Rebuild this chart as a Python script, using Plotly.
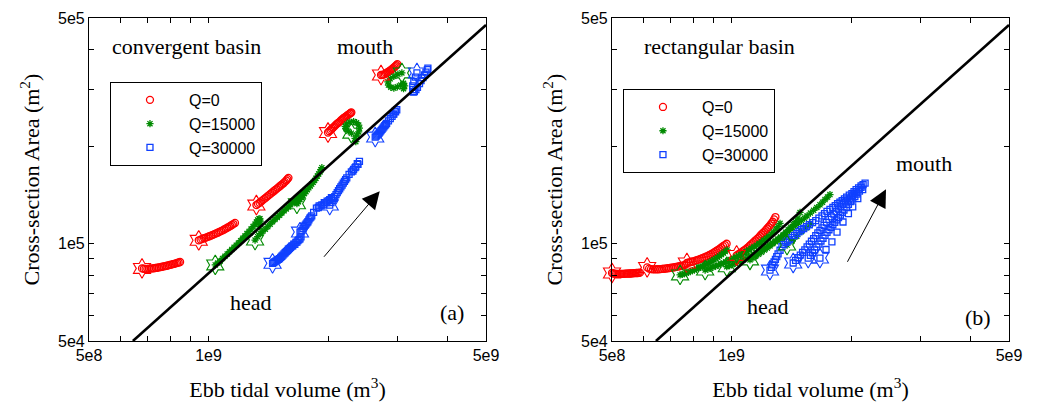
import numpy as np
import plotly.graph_objects as go

# ---------------- Panel (a): convergent basin ----------------
# each inner list is one cross-section, ordered from head to mouth;
# the first point of every segment is the initial state (drawn as a star)
conv_q0_x = [
    [6.80e8, 6.87e8, 6.94e8, 7.01e8, 7.08e8, 7.15e8, 7.22e8, 7.29e8, 7.36e8, 7.43e8, 7.50e8, 7.57e8, 7.64e8,
     7.71e8, 7.78e8, 7.85e8, 7.92e8, 7.99e8, 8.06e8, 8.13e8, 8.20e8, 8.27e8, 8.34e8, 8.41e8, 8.48e8],
    [9.45e8, 9.55e8, 9.65e8, 9.75e8, 9.85e8, 9.95e8, 1.005e9, 1.015e9, 1.025e9, 1.035e9, 1.045e9, 1.055e9,
     1.065e9, 1.075e9, 1.085e9, 1.095e9, 1.105e9, 1.115e9, 1.125e9, 1.135e9, 1.145e9, 1.155e9, 1.166e9],
    [1.320e9, 1.332e9, 1.345e9, 1.357e9, 1.370e9, 1.382e9, 1.395e9, 1.407e9, 1.420e9, 1.432e9, 1.445e9, 1.457e9,
     1.470e9, 1.482e9, 1.495e9, 1.507e9, 1.520e9, 1.532e9, 1.545e9, 1.557e9, 1.570e9, 1.580e9, 1.590e9],
    [2.000e9, 2.015e9, 2.030e9, 2.045e9, 2.060e9, 2.075e9, 2.090e9, 2.105e9, 2.120e9, 2.135e9, 2.150e9, 2.165e9,
     2.180e9, 2.195e9, 2.210e9, 2.225e9, 2.240e9, 2.255e9, 2.270e9, 2.280e9, 2.290e9],
    [2.72e9, 2.74e9, 2.76e9, 2.78e9, 2.80e9, 2.82e9, 2.84e9, 2.86e9, 2.88e9, 2.90e9, 2.92e9, 2.94e9, 2.96e9,
     2.975e9, 2.99e9],
]
conv_q0_y = [
    [8.39e4, 8.37e4, 8.36e4, 8.36e4, 8.37e4, 8.38e4, 8.39e4, 8.40e4, 8.42e4, 8.43e4, 8.45e4, 8.47e4, 8.49e4,
     8.51e4, 8.53e4, 8.55e4, 8.57e4, 8.60e4, 8.62e4, 8.65e4, 8.67e4, 8.70e4, 8.73e4, 8.75e4, 8.78e4],
    [1.025e5, 1.030e5, 1.035e5, 1.040e5, 1.045e5, 1.050e5, 1.055e5, 1.060e5, 1.066e5, 1.071e5, 1.077e5, 1.082e5,
     1.088e5, 1.094e5, 1.100e5, 1.107e5, 1.114e5, 1.121e5, 1.128e5, 1.135e5, 1.143e5, 1.151e5, 1.160e5],
    [1.318e5, 1.329e5, 1.340e5, 1.352e5, 1.365e5, 1.377e5, 1.390e5, 1.402e5, 1.415e5, 1.427e5, 1.440e5, 1.452e5,
     1.465e5, 1.477e5, 1.490e5, 1.502e5, 1.515e5, 1.527e5, 1.540e5, 1.555e5, 1.570e5, 1.585e5, 1.600e5],
    [2.21e5, 2.23e5, 2.25e5, 2.27e5, 2.29e5, 2.31e5, 2.33e5, 2.35e5, 2.365e5, 2.38e5, 2.40e5, 2.42e5,
     2.44e5, 2.455e5, 2.47e5, 2.485e5, 2.50e5, 2.515e5, 2.53e5, 2.54e5, 2.55e5],
    [3.33e5, 3.335e5, 3.34e5, 3.35e5, 3.37e5, 3.39e5, 3.41e5, 3.43e5, 3.45e5, 3.475e5, 3.50e5, 3.525e5, 3.55e5,
     3.575e5, 3.60e5],
]

conv_q15k_x = [
    [1.040e9, 1.055e9, 1.070e9, 1.085e9, 1.100e9, 1.115e9, 1.130e9, 1.145e9, 1.160e9, 1.175e9, 1.190e9, 1.205e9,
     1.220e9, 1.235e9, 1.250e9, 1.265e9, 1.280e9, 1.295e9, 1.310e9, 1.320e9, 1.330e9, 1.340e9, 1.348e9, 1.350e9,
     1.347e9, 1.343e9],
    [1.31e9, 1.33e9, 1.35e9, 1.37e9, 1.39e9, 1.41e9, 1.43e9, 1.45e9, 1.47e9, 1.49e9, 1.51e9, 1.53e9, 1.55e9,
     1.57e9, 1.59e9, 1.61e9, 1.63e9, 1.65e9, 1.67e9, 1.69e9, 1.71e9, 1.73e9, 1.75e9],
    [1.670e9, 1.685e9, 1.700e9, 1.715e9, 1.730e9, 1.745e9, 1.760e9, 1.775e9, 1.790e9, 1.805e9, 1.820e9, 1.835e9,
     1.850e9, 1.865e9, 1.880e9, 1.895e9, 1.910e9, 1.920e9, 1.930e9],
    [2.29e9, 2.25e9, 2.22e9, 2.21e9, 2.23e9, 2.27e9, 2.32e9, 2.36e9, 2.39e9, 2.40e9, 2.39e9, 2.36e9, 2.34e9, 2.35e9],
    [3.07e9, 3.00e9, 2.93e9, 2.87e9, 2.83e9, 2.84e9, 2.88e9, 2.93e9, 2.99e9, 3.05e9, 3.10e9, 3.12e9, 3.10e9],
]
conv_q15k_y = [
    [8.60e4, 8.72e4, 8.85e4, 9.00e4, 9.15e4, 9.30e4, 9.45e4, 9.60e4, 9.75e4, 9.90e4, 1.005e5, 1.022e5,
     1.040e5, 1.057e5, 1.075e5, 1.092e5, 1.110e5, 1.130e5, 1.150e5, 1.167e5, 1.185e5, 1.195e5, 1.195e5, 1.175e5,
     1.150e5, 1.130e5],
    [1.027e5, 1.052e5, 1.075e5, 1.093e5, 1.110e5, 1.130e5, 1.150e5, 1.170e5, 1.190e5, 1.207e5, 1.225e5, 1.245e5,
     1.265e5, 1.282e5, 1.300e5, 1.320e5, 1.340e5, 1.360e5, 1.380e5, 1.400e5, 1.420e5, 1.440e5, 1.460e5],
    [1.33e5, 1.35e5, 1.37e5, 1.39e5, 1.41e5, 1.43e5, 1.45e5, 1.47e5, 1.49e5, 1.51e5, 1.53e5, 1.55e5,
     1.57e5, 1.595e5, 1.62e5, 1.645e5, 1.67e5, 1.695e5, 1.72e5],
    [2.20e5, 2.23e5, 2.27e5, 2.31e5, 2.35e5, 2.38e5, 2.39e5, 2.37e5, 2.33e5, 2.28e5, 2.22e5, 2.17e5, 2.12e5, 2.07e5],
    [3.38e5, 3.35e5, 3.30e5, 3.24e5, 3.17e5, 3.10e5, 3.05e5, 3.03e5, 3.06e5, 3.10e5, 3.14e5, 3.08e5, 3.02e5],
]

conv_q30k_x = [
    [1.45e9, 1.46e9, 1.47e9, 1.48e9, 1.49e9, 1.50e9, 1.51e9, 1.52e9, 1.53e9, 1.54e9, 1.55e9, 1.56e9, 1.57e9,
     1.58e9, 1.59e9, 1.60e9, 1.62e9, 1.64e9, 1.66e9, 1.68e9, 1.70e9, 1.71e9, 1.69e9, 1.67e9, 1.65e9, 1.63e9,
     1.61e9, 1.59e9],
    [1.70e9, 1.71e9, 1.72e9, 1.73e9, 1.74e9, 1.75e9, 1.76e9, 1.77e9, 1.78e9, 1.79e9, 1.80e9, 1.81e9, 1.82e9,
     1.84e9, 1.87e9, 1.90e9, 1.93e9, 1.96e9, 1.99e9, 2.02e9, 2.04e9, 2.01e9, 1.98e9, 1.95e9, 1.92e9, 1.89e9],
    [2.020e9, 2.035e9, 2.050e9, 2.065e9, 2.080e9, 2.095e9, 2.110e9, 2.125e9, 2.140e9, 2.155e9, 2.170e9, 2.185e9,
     2.200e9, 2.215e9, 2.230e9, 2.260e9, 2.290e9, 2.320e9, 2.350e9, 2.380e9, 2.400e9, 2.370e9, 2.340e9, 2.310e9],
    [2.630e9, 2.645e9, 2.660e9, 2.675e9, 2.690e9, 2.705e9, 2.720e9, 2.735e9, 2.750e9, 2.765e9, 2.780e9, 2.795e9,
     2.810e9, 2.840e9, 2.870e9, 2.900e9, 2.930e9, 2.960e9, 2.980e9, 2.950e9, 2.920e9],
    [3.35e9, 3.32e9, 3.29e9, 3.27e9, 3.27e9, 3.28e9, 3.30e9, 3.33e9, 3.36e9, 3.40e9, 3.43e9, 3.47e9, 3.50e9,
     3.53e9, 3.56e9, 3.57e9],
]
conv_q30k_y = [
    [8.70e4, 8.75e4, 8.80e4, 8.85e4, 8.90e4, 8.95e4, 9.00e4, 9.08e4, 9.15e4, 9.22e4, 9.30e4, 9.38e4, 9.45e4,
     9.52e4, 9.60e4, 9.68e4, 9.83e4, 9.98e4, 1.010e5, 1.022e5, 1.035e5, 1.050e5, 1.030e5, 1.012e5, 9.95e4, 9.85e4,
     9.75e4, 9.62e4],
    [1.087e5, 1.095e5, 1.100e5, 1.115e5, 1.130e5, 1.140e5, 1.150e5, 1.160e5, 1.170e5, 1.185e5, 1.200e5, 1.210e5,
     1.220e5, 1.250e5, 1.290e5, 1.310e5, 1.320e5, 1.340e5, 1.355e5, 1.370e5, 1.390e5, 1.360e5, 1.340e5, 1.320e5,
     1.310e5, 1.295e5],
    [1.318e5, 1.34e5, 1.36e5, 1.38e5, 1.40e5, 1.42e5, 1.44e5, 1.46e5, 1.48e5, 1.50e5, 1.52e5, 1.54e5,
     1.56e5, 1.58e5, 1.60e5, 1.64e5, 1.67e5, 1.70e5, 1.73e5, 1.76e5, 1.80e5, 1.77e5, 1.72e5, 1.68e5],
    [2.14e5, 2.155e5, 2.17e5, 2.185e5, 2.20e5, 2.22e5, 2.24e5, 2.26e5, 2.28e5, 2.30e5, 2.32e5, 2.34e5,
     2.36e5, 2.40e5, 2.44e5, 2.48e5, 2.52e5, 2.56e5, 2.60e5, 2.57e5, 2.52e5],
    [3.38e5, 3.28e5, 3.18e5, 3.08e5, 3.00e5, 2.95e5, 2.96e5, 3.00e5, 3.05e5, 3.13e5, 3.20e5, 3.27e5, 3.33e5,
     3.40e5, 3.46e5, 3.50e5],
]

# ---------------- Panel (b): rectangular basin ----------------
rect_q0_x = [
    [5.00e8, 5.04e8, 5.08e8, 5.12e8, 5.16e8, 5.20e8, 5.24e8, 5.28e8, 5.32e8, 5.36e8, 5.40e8, 5.44e8, 5.48e8,
     5.52e8, 5.56e8, 5.60e8, 5.64e8, 5.68e8, 5.72e8, 5.76e8, 5.80e8, 5.84e8, 5.88e8],
    [6.13e8, 6.20e8, 6.27e8, 6.34e8, 6.41e8, 6.48e8, 6.55e8, 6.62e8, 6.69e8, 6.76e8, 6.83e8, 6.90e8, 6.97e8,
     7.04e8, 7.11e8, 7.18e8, 7.25e8, 7.32e8, 7.39e8, 7.46e8, 7.53e8, 7.60e8, 7.67e8],
    [7.72e8, 7.81e8, 7.90e8, 7.99e8, 8.08e8, 8.17e8, 8.26e8, 8.35e8, 8.44e8, 8.53e8, 8.62e8, 8.71e8, 8.80e8,
     8.89e8, 8.98e8, 9.07e8, 9.16e8, 9.25e8, 9.34e8, 9.43e8, 9.52e8, 9.62e8, 9.72e8],
    [1.03e9, 1.04e9, 1.05e9, 1.06e9, 1.07e9, 1.08e9, 1.09e9, 1.10e9, 1.11e9, 1.12e9, 1.13e9, 1.14e9, 1.15e9,
     1.16e9, 1.17e9, 1.18e9, 1.19e9, 1.20e9, 1.21e9, 1.22e9, 1.23e9, 1.24e9, 1.25e9, 1.26e9, 1.27e9, 1.28e9, 1.29e9],
]
rect_q0_y = [
    [8.12e4, 8.09e4, 8.08e4, 8.07e4, 8.07e4, 8.07e4, 8.07e4, 8.07e4, 8.07e4, 8.07e4, 8.08e4, 8.08e4, 8.08e4,
     8.09e4, 8.09e4, 8.10e4, 8.10e4, 8.11e4, 8.11e4, 8.12e4, 8.12e4, 8.13e4, 8.14e4],
    [8.45e4, 8.38e4, 8.35e4, 8.33e4, 8.33e4, 8.34e4, 8.34e4, 8.35e4, 8.36e4, 8.37e4, 8.38e4, 8.40e4, 8.41e4,
     8.43e4, 8.44e4, 8.46e4, 8.48e4, 8.50e4, 8.52e4, 8.54e4, 8.56e4, 8.59e4, 8.62e4],
    [8.72e4, 8.75e4, 8.78e4, 8.81e4, 8.85e4, 8.89e4, 8.93e4, 8.97e4, 9.02e4, 9.07e4, 9.12e4, 9.17e4, 9.23e4,
     9.29e4, 9.36e4, 9.43e4, 9.50e4, 9.58e4, 9.66e4, 9.74e4, 9.83e4, 9.91e4, 1.00e5],
    [9.20e4, 9.27e4, 9.35e4, 9.42e4, 9.50e4, 9.57e4, 9.65e4, 9.75e4, 9.85e4, 9.95e4, 1.005e5, 1.015e5, 1.025e5,
     1.035e5, 1.045e5, 1.057e5, 1.070e5, 1.080e5, 1.090e5, 1.102e5, 1.115e5, 1.127e5, 1.140e5, 1.155e5, 1.170e5,
     1.190e5, 1.210e5],
]

rect_q15k_x = [
    [7.42e8, 7.51e8, 7.60e8, 7.69e8, 7.78e8, 7.87e8, 7.97e8, 8.06e8, 8.16e8, 8.25e8, 8.35e8, 8.44e8, 8.54e8,
     8.63e8, 8.73e8, 8.83e8, 8.93e8, 9.03e8, 9.13e8, 9.23e8, 9.33e8, 9.43e8, 9.54e8, 9.64e8, 9.75e8],
    [8.58e8, 8.72e8, 8.85e8, 8.98e8, 9.12e8, 9.26e8, 9.40e8, 9.54e8, 9.68e8, 9.82e8, 9.97e8, 1.012e9, 1.027e9,
     1.042e9, 1.058e9, 1.074e9, 1.090e9, 1.106e9, 1.123e9, 1.140e9, 1.157e9, 1.174e9, 1.190e9, 1.207e9, 1.225e9,
     1.242e9, 1.260e9, 1.277e9, 1.295e9, 1.310e9, 1.325e9],
    [9.73e8, 9.89e8, 1.005e9, 1.021e9, 1.037e9, 1.053e9, 1.070e9, 1.087e9, 1.104e9, 1.121e9, 1.139e9, 1.157e9,
     1.175e9, 1.193e9, 1.212e9, 1.231e9, 1.250e9, 1.270e9, 1.290e9, 1.310e9, 1.330e9, 1.350e9, 1.370e9, 1.390e9,
     1.410e9, 1.430e9, 1.450e9, 1.470e9, 1.488e9],
    [1.113e9, 1.132e9, 1.150e9, 1.170e9, 1.190e9, 1.210e9, 1.230e9, 1.250e9, 1.270e9, 1.290e9, 1.310e9, 1.330e9,
     1.350e9, 1.375e9, 1.400e9, 1.425e9, 1.450e9, 1.475e9, 1.500e9, 1.525e9, 1.550e9, 1.580e9, 1.610e9, 1.640e9,
     1.670e9, 1.695e9, 1.720e9, 1.745e9, 1.770e9],
    [1.38e9, 1.42e9, 1.46e9, 1.50e9, 1.54e9, 1.58e9],
]
rect_q15k_y = [
    [8.01e4, 8.04e4, 8.08e4, 8.12e4, 8.16e4, 8.20e4, 8.25e4, 8.30e4, 8.35e4, 8.40e4, 8.46e4, 8.52e4, 8.58e4,
     8.64e4, 8.71e4, 8.78e4, 8.85e4, 8.92e4, 9.00e4, 9.08e4, 9.17e4, 9.26e4, 9.36e4, 9.46e4, 9.57e4],
    [8.29e4, 8.34e4, 8.40e4, 8.46e4, 8.52e4, 8.58e4, 8.65e4, 8.72e4, 8.79e4, 8.86e4, 8.94e4, 9.02e4, 9.10e4,
     9.19e4, 9.28e4, 9.37e4, 9.47e4, 9.57e4, 9.68e4, 9.79e4, 9.90e4, 1.002e5, 1.014e5, 1.027e5, 1.040e5,
     1.055e5, 1.070e5, 1.087e5, 1.110e5, 1.130e5, 1.157e5],
    [8.49e4, 8.55e4, 8.62e4, 8.69e4, 8.76e4, 8.84e4, 8.92e4, 9.00e4, 9.09e4, 9.18e4, 9.28e4, 9.38e4,
     9.48e4, 9.59e4, 9.70e4, 9.82e4, 9.94e4, 1.007e5, 1.020e5, 1.035e5, 1.050e5, 1.067e5, 1.085e5, 1.105e5,
     1.125e5, 1.147e5, 1.170e5, 1.200e5, 1.250e5],
    [8.91e4, 9.03e4, 9.15e4, 9.28e4, 9.42e4, 9.56e4, 9.70e4, 9.85e4, 1.000e5, 1.015e5, 1.030e5, 1.045e5,
     1.060e5, 1.080e5, 1.100e5, 1.120e5, 1.140e5, 1.160e5, 1.180e5, 1.200e5, 1.220e5, 1.245e5, 1.270e5, 1.295e5,
     1.320e5, 1.345e5, 1.370e5, 1.395e5, 1.420e5],
    [9.91e4, 1.02e5, 1.055e5, 1.09e5, 1.12e5, 1.15e5],
]

rect_q30k_x = [
    [1.250e9, 1.260e9, 1.270e9, 1.280e9, 1.290e9, 1.300e9, 1.310e9, 1.325e9, 1.340e9, 1.355e9, 1.370e9, 1.385e9,
     1.400e9, 1.420e9, 1.440e9, 1.460e9, 1.480e9, 1.500e9, 1.520e9, 1.545e9, 1.570e9, 1.600e9, 1.630e9, 1.660e9,
     1.690e9, 1.715e9, 1.740e9, 1.770e9, 1.800e9, 1.825e9, 1.850e9, 1.875e9, 1.900e9, 1.925e9, 1.950e9, 1.980e9,
     2.010e9, 2.035e9, 2.060e9, 2.090e9, 2.120e9, 2.145e9, 2.170e9],
    [1.430e9, 1.450e9, 1.470e9, 1.490e9, 1.510e9, 1.530e9, 1.550e9, 1.570e9, 1.590e9, 1.610e9, 1.630e9, 1.650e9,
     1.670e9, 1.690e9, 1.710e9, 1.735e9, 1.760e9, 1.785e9, 1.810e9, 1.835e9, 1.860e9, 1.885e9, 1.910e9, 1.935e9,
     1.960e9, 1.985e9, 2.010e9, 2.035e9, 2.060e9, 2.090e9, 2.120e9],
    [1.560e9, 1.580e9, 1.600e9, 1.620e9, 1.640e9, 1.660e9, 1.680e9, 1.700e9, 1.720e9, 1.740e9, 1.760e9, 1.780e9,
     1.800e9, 1.820e9, 1.840e9, 1.860e9, 1.880e9, 1.900e9, 1.920e9, 1.945e9, 1.970e9, 1.995e9, 2.020e9, 2.045e9,
     2.070e9, 2.100e9],
    [1.67e9, 1.73e9, 1.79e9, 1.844e9, 1.909e9, 1.97e9, 2.02e9, 2.08e9, 2.14e9],
]
rect_q30k_y = [
    [8.29e4, 8.45e4, 8.60e4, 8.78e4, 8.95e4, 9.12e4, 9.30e4, 9.55e4, 9.80e4, 9.95e4, 1.010e5, 1.020e5,
     1.030e5, 1.045e5, 1.060e5, 1.075e5, 1.090e5, 1.105e5, 1.115e5, 1.130e5, 1.145e5, 1.162e5, 1.180e5, 1.200e5,
     1.220e5, 1.240e5, 1.260e5, 1.278e5, 1.295e5, 1.312e5, 1.330e5, 1.345e5, 1.360e5, 1.378e5, 1.395e5, 1.415e5,
     1.430e5, 1.450e5, 1.470e5, 1.490e5, 1.510e5, 1.525e5, 1.540e5],
    [8.72e4, 8.88e4, 9.05e4, 9.22e4, 9.40e4, 9.58e4, 9.78e4, 9.98e4, 1.018e5, 1.038e5, 1.060e5, 1.080e5,
     1.100e5, 1.120e5, 1.140e5, 1.165e5, 1.190e5, 1.212e5, 1.235e5, 1.257e5, 1.280e5, 1.302e5, 1.325e5, 1.345e5,
     1.365e5, 1.385e5, 1.405e5, 1.425e5, 1.445e5, 1.470e5, 1.495e5],
    [9.03e4, 9.20e4, 9.38e4, 9.58e4, 9.78e4, 9.98e4, 1.020e5, 1.040e5, 1.062e5, 1.085e5, 1.105e5, 1.125e5,
     1.145e5, 1.165e5, 1.185e5, 1.205e5, 1.227e5, 1.250e5, 1.272e5, 1.298e5, 1.325e5, 1.350e5, 1.375e5, 1.400e5,
     1.425e5, 1.455e5],
    [9.03e4, 9.60e4, 1.013e5, 1.087e5, 1.168e5, 1.24e5, 1.30e5, 1.38e5, 1.47e5],
]

# power-law reference line A ~ P^k (same in both panels)
fit_x = [6.45e8, 5.0e9]
fit_y = [5.0e4, 4.76e5]

x_tickvals = [5e8, 6e8, 7e8, 8e8, 9e8, 1e9, 2e9, 3e9, 4e9, 5e9]
x_ticktext = ["5e8", "", "", "", "", "1e9", "", "", "", "5e9"]
y_tickvals = [5e4, 6e4, 7e4, 8e4, 9e4, 1e5, 2e5, 3e5, 4e5, 5e5]
y_ticktext = ["5e4", "", "", "", "", "1e5", "", "", "", "5e5"]

series_names = ["Q=0", "Q=15000", "Q=30000"]
colors = ["#ff0000", "#008a00", "#1040ff"]
symbols = ["circle-open", "asterisk-open", "square-open"]
sizes = [7, 6, 6]

SERIF = "Liberation Serif"
SANS = "Liberation Sans"


def flat(segments):
    return [v for seg in segments for v in seg]


fig = go.Figure()

panels = [
    ("x", "y", "legend", [(conv_q0_x, conv_q0_y), (conv_q15k_x, conv_q15k_y), (conv_q30k_x, conv_q30k_y)]),
    ("x2", "y2", "legend2", [(rect_q0_x, rect_q0_y), (rect_q15k_x, rect_q15k_y), (rect_q30k_x, rect_q30k_y)]),
]

for xa, ya, leg, data in panels:
    for (sx, sy), name, col, sym, sz in zip(data, series_names, colors, symbols, sizes):
        fig.add_trace(go.Scatter(
            x=flat(sx), y=flat(sy), mode="markers", name=name, legend=leg,
            xaxis=xa, yaxis=ya, cliponaxis=False,
            marker=dict(symbol=sym, size=sz, color=col, line=dict(color=col, width=1.3)),
        ))
    for (sx, sy), col in zip(data, colors):
        fig.add_trace(go.Scatter(
            x=[seg[0] for seg in sx], y=[seg[0] for seg in sy], mode="markers",
            showlegend=False, xaxis=xa, yaxis=ya, cliponaxis=False,
            marker=dict(symbol="hexagram-open", size=15, color=col, line=dict(color=col, width=1.1)),
        ))
    fig.add_trace(go.Scatter(
        x=fit_x, y=fit_y, mode="lines", showlegend=False, xaxis=xa, yaxis=ya,
        line=dict(color="black", width=2.6),
    ))

axis_common = dict(
    type="log", showline=True, linecolor="black", linewidth=1.2, mirror="allticks",
    ticks="inside", ticklen=5, tickwidth=1, tickcolor="black",
    showgrid=False, zeroline=False, automargin=False,
    tickfont=dict(family=SANS, size=16, color="black"),
)
xr = [np.log10(5e8), np.log10(5e9)]
yr = [np.log10(5e4), np.log10(5e5)]
xtitle = dict(text="Ebb tidal volume (m<sup>3</sup>)", font=dict(family=SERIF, size=22, color="black"), standoff=18)
ytitle = dict(text="Cross-section Area (m<sup>2</sup>)", font=dict(family=SERIF, size=22, color="black"), standoff=12)

legend_common = dict(
    xanchor="left", yanchor="top", bgcolor="white", bordercolor="black", borderwidth=1,
    font=dict(family=SANS, size=16, color="black"), itemwidth=68, tracegroupgap=0,
)

fig.update_layout(
    width=1037, height=404,
    margin=dict(l=89, r=28, t=18, b=63),
    paper_bgcolor="white", plot_bgcolor="white",
    xaxis=dict(domain=[0, 0.4315], range=xr, tickvals=x_tickvals, ticktext=x_ticktext,
               title=xtitle, anchor="y", **axis_common),
    yaxis=dict(domain=[0, 1], range=yr, tickvals=y_tickvals, ticktext=y_ticktext,
               title=ytitle, anchor="x", **axis_common),
    xaxis2=dict(domain=[0.5685, 1], range=xr, tickvals=x_tickvals, ticktext=x_ticktext,
                title=xtitle, anchor="y2", **axis_common),
    yaxis2=dict(domain=[0, 1], range=yr, tickvals=y_tickvals, ticktext=y_ticktext,
                title=ytitle, anchor="x2", **axis_common),
    legend=dict(x=0.0228, y=0.802, **legend_common),
    legend2=dict(x=0.5804, y=0.780, **legend_common),
)

# text labels inside the panels
labels = [
    ("x", "y", 0.053, 0.913, "convergent basin", "left"),
    ("x", "y", 0.6965, 0.913, "mouth", "center"),
    ("x", "y", 0.409, 0.118, "head", "center"),
    ("x", "y", 0.914, 0.088, "(a)", "center"),
    ("x2", "y2", 0.075, 0.913, "rectangular basin", "left"),
    ("x2", "y2", 0.785, 0.551, "mouth", "center"),
    ("x2", "y2", 0.392, 0.108, "head", "center"),
    ("x2", "y2", 0.922, 0.074, "(b)", "center"),
]
for xa, ya, lx, ly, txt, anc in labels:
    fig.add_annotation(
        xref=f"{xa} domain", yref=f"{ya} domain", x=lx, y=ly, text=txt,
        showarrow=False, xanchor=anc, yanchor="middle",
        font=dict(family=SERIF, size=22, color="black"),
    )

# arrows pointing from head towards mouth
arrows = [
    ("x", "y", 1.94e9, 9.02e4, 2.70e9, 1.455e5),
    ("x2", "y2", 1.95e9, 8.70e4, 2.45e9, 1.474e5),
]
for xa, ya, x0, y0, x1, y1 in arrows:
    fig.add_annotation(
        xref=xa, yref=ya, axref=xa, ayref=ya,
        x=np.log10(x1), y=np.log10(y1), ax=np.log10(x0), ay=np.log10(y0),
        text="", showarrow=True, arrowhead=2, arrowsize=3.5, arrowwidth=1, arrowcolor="black",
    )

fig.write_html("out.html")
